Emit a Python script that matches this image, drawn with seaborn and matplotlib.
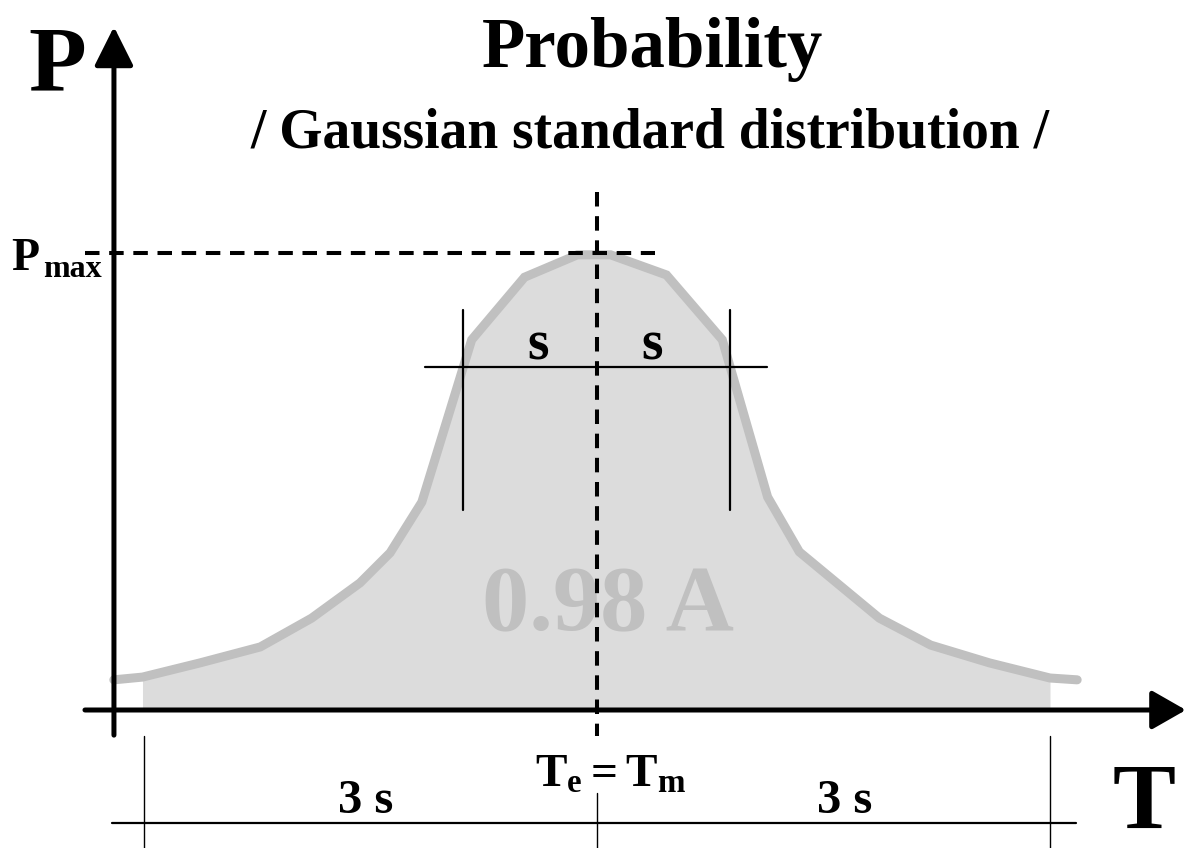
import matplotlib
matplotlib.use('Agg')
from matplotlib import pyplot as plt
import numpy as np
import seaborn as sns

# curve: T in units of s (centre = 0), P relative to Pmax
t_vals = [-3.20, -3.01, -2.63, -2.23, -1.89, -1.57, -1.37, -1.16, -0.83, -0.48, -0.13,
          0.09, 0.46, 0.83, 1.13, 1.34, 1.87, 2.21, 2.60, 3.00, 3.18]
p_vals = [0.066, 0.072, 0.103, 0.138, 0.201, 0.278, 0.344, 0.455, 0.810, 0.947, 0.996,
          0.996, 0.952, 0.810, 0.466, 0.346, 0.201, 0.142, 0.103, 0.070, 0.066]

sigma_marks = [-0.887, 0.881]   # the two "s" lines
range_marks = [-3.0, 0.0, 3.0]  # the 3s limits and the centre
area_label = "0.98 A"

sns.set_style("white")
plt.rcParams['font.family'] = ['Liberation Serif', 'DejaVu Serif']
plt.rcParams['font.weight'] = 'bold'
plt.rcParams['text.color'] = 'black'
plt.rcParams['mathtext.fontset'] = 'custom'
plt.rcParams['mathtext.rm'] = 'Liberation Serif:bold'
plt.rcParams['mathtext.it'] = 'Liberation Serif:bold'
plt.rcParams['mathtext.bf'] = 'Liberation Serif:bold'

fig = plt.figure(figsize=(11.89, 8.48), dpi=100)
ax = fig.add_axes([0, 0, 1, 1])
ax.set_xlim(-597 / 151, 592 / 151)
ax.set_ylim(-138 / 457, 710 / 457)
ax.axis('off')

t = np.array(t_vals)
p = np.array(p_vals)

# shaded area within +-3s
inside = np.abs(t) <= 3.01
ax.fill_between(t[inside], 0, p[inside], color='#dcdcdc', lw=0, zorder=1)
sns.lineplot(x=t, y=p, sort=False, color='#c0c0c0', lw=6.5, ax=ax, zorder=2,
             solid_joinstyle='miter')

ax.text(0.073, 0.175, area_label, color='#c0c0c0', fontsize=68, fontweight='bold',
        ha='center', va='baseline', zorder=2)

# axes with arrows
ax.annotate('', xy=(-3.199, 1.495), xytext=(-3.199, -0.055),
            arrowprops=dict(arrowstyle='-|>,head_length=2.4,head_width=1.2',
                            mutation_scale=10, lw=3.6, color='black',
                            shrinkA=0, shrinkB=0), zorder=5)
ax.annotate('', xy=(3.90, 0.0), xytext=(-3.391, 0.0),
            arrowprops=dict(arrowstyle='-|>,head_length=2.1,head_width=1.2',
                            mutation_scale=10, lw=3.6, color='black',
                            shrinkA=0, shrinkB=0), zorder=5)

# dashed guides: Pmax and the centre line
ax.plot([-3.391, 0.384], [1.0, 1.0], color='black', lw=2.9, dashes=(3.6, 2.4), zorder=4)
ax.plot([0, 0], [1.133, -0.057], color='black', lw=2.9, dashes=(3.6, 2.4), zorder=4)

# s dimension
ax.plot([-1.139, 1.126], [0.751, 0.751], color='black', lw=1.6, zorder=4)
for m in sigma_marks:
    ax.plot([m, m], [0.875, 0.438], color='black', lw=1.6, zorder=4)
ax.text(-0.391, 0.766, 's', fontsize=40, ha='center', va='baseline')
ax.text(0.364, 0.766, 's', fontsize=40, ha='center', va='baseline')

# 3s dimension below the axis
ax.plot([-3.212, 3.172], [-0.247, -0.247], color='black', lw=1.6, zorder=4)
for m in range_marks:
    top = -0.182 if m == 0 else -0.057
    ax.plot([m, m], [top, -0.32], color='black', lw=1.0, zorder=4)
ax.text(-1.533, -0.226, '3 s', fontsize=35, ha='center', va='baseline')
ax.text(1.642, -0.226, '3 s', fontsize=35, ha='center', va='baseline')
ax.text(0.09, -0.168, r'$\mathrm{T_e = T_m}$', fontsize=34, ha='center', va='baseline')

# titles and axis letters
fig.text(652 / 1189, 1 - 67 / 848, 'Probability', fontsize=51, fontweight='bold',
         ha='center', va='baseline')
fig.text(650 / 1189, 1 - 148 / 848, '/ Gaussian standard distribution /', fontsize=40,
         fontweight='bold', ha='center', va='baseline')
fig.text(28 / 1189, 1 - 90 / 848, 'P', fontsize=68, fontweight='bold', ha='left', va='baseline')
fig.text(1113 / 1189, 1 - 828 / 848, 'T', fontsize=68, fontweight='bold', ha='left', va='baseline')
fig.text(11 / 1189, 1 - 270 / 848, 'P', fontsize=33, fontweight='bold', ha='left', va='baseline')
fig.text(43 / 1189, 1 - 277 / 848, 'max', fontsize=23, fontweight='bold', ha='left', va='baseline')

fig.savefig('out.png', dpi=100, facecolor='white')
